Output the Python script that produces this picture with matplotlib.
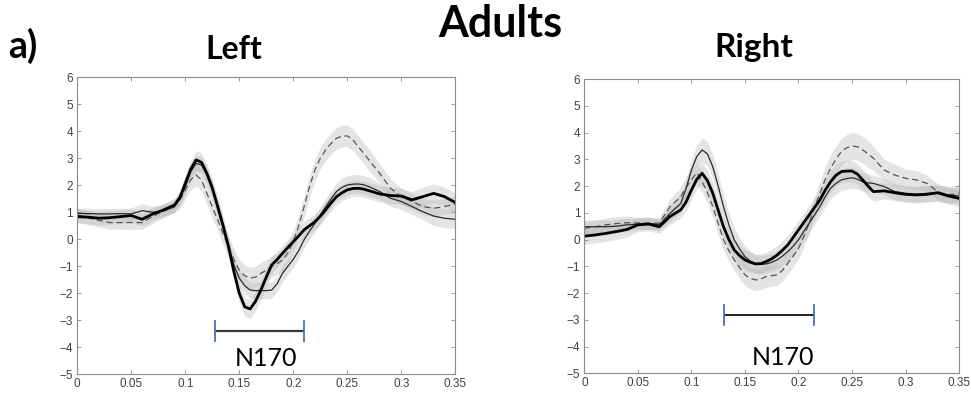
import numpy as np
import matplotlib
matplotlib.use("Agg")
import matplotlib.pyplot as plt

# Time axis (s): 10 ms steps outside the component window, 5 ms steps inside it
t = np.concatenate([np.arange(0, 0.09 + 1e-9, 0.01),
                    np.arange(0.095, 0.265 + 1e-9, 0.005),
                    np.arange(0.27, 0.35 + 1e-9, 0.01)])

# Left hemisphere: mean curves (uV)
left_thick = [0.84, 0.82, 0.78, 0.80, 0.84, 0.88, 0.74, 0.94, 1.09, 1.27,
              1.55, 2.07, 2.60, 2.94, 2.85, 2.44, 1.90, 1.21, 0.50, -0.27,
              -1.20, -2.00, -2.50, -2.58, -2.30, -1.88, -1.40, -0.95, -0.75, -0.52,
              -0.30, -0.09, 0.12, 0.35, 0.50, 0.65, 0.85, 1.09, 1.35, 1.58,
              1.72, 1.83, 1.88, 1.89, 1.86,
              1.80, 1.68, 1.62, 1.60, 1.46, 1.58, 1.70, 1.58, 1.36]
left_thin = [0.96, 0.95, 0.94, 0.94, 0.95, 0.94, 1.06, 1.00, 1.05, 1.20,
             1.50, 1.95, 2.50, 2.81, 2.75, 2.38, 1.85, 1.21, 0.50, -0.27,
             -0.95, -1.44, -1.72, -1.88, -1.90, -1.90, -1.90, -1.88, -1.65, -1.26,
             -1.00, -0.74, -0.42, -0.02, 0.30, 0.59, 0.90, 1.21, 1.50, 1.77,
             1.92, 2.01, 2.04, 2.05, 2.02,
             1.95, 1.77, 1.52, 1.40, 1.21, 1.02, 0.86, 0.78, 0.74]
left_dash = [0.90, 0.80, 0.70, 0.62, 0.62, 0.62, 0.62, 0.85, 1.05, 1.23,
             1.45, 1.83, 2.20, 2.38, 2.20, 1.70, 1.20, 0.72, 0.20, -0.27,
             -0.75, -1.14, -1.35, -1.44, -1.40, -1.26, -1.15, -1.01, -0.90, -0.77,
             -0.50, -0.09, 0.50, 1.21, 1.95, 2.57, 3.00, 3.31, 3.55, 3.74,
             3.82, 3.83, 3.70, 3.43, 3.20,
             2.94, 2.44, 1.89, 1.58, 1.40, 1.21, 1.15, 1.21, 1.31]
# half-widths of the shaded bands
left_thick_sd = [0.25, 0.25, 0.25, 0.25, 0.25, 0.25, 0.25, 0.25, 0.25, 0.25,
                 0.28, 0.30, 0.32, 0.35, 0.35, 0.35, 0.35, 0.35, 0.35, 0.35,
                 0.35, 0.35, 0.35, 0.35, 0.35, 0.35, 0.35, 0.32, 0.30, 0.30,
                 0.30, 0.30, 0.30, 0.30, 0.30, 0.30, 0.30, 0.30, 0.30, 0.30,
                 0.30, 0.30, 0.30, 0.30, 0.30,
                 0.30, 0.30, 0.30, 0.30, 0.30, 0.35, 0.35, 0.35, 0.35]
left_thin_sd = [0.20, 0.20, 0.20, 0.20, 0.20, 0.22, 0.25, 0.22, 0.20, 0.20,
                0.22, 0.25, 0.28, 0.30, 0.30, 0.30, 0.30, 0.30, 0.30, 0.30,
                0.30, 0.30, 0.30, 0.30, 0.30, 0.30, 0.30, 0.30, 0.30, 0.30,
                0.30, 0.30, 0.30, 0.30, 0.30, 0.30, 0.30, 0.30, 0.30, 0.32,
                0.35, 0.35, 0.35, 0.35, 0.35,
                0.35, 0.30, 0.30, 0.30, 0.30, 0.30, 0.35, 0.35, 0.35]
left_dash_sd = [0.25, 0.25, 0.25, 0.25, 0.25, 0.25, 0.25, 0.25, 0.25, 0.25,
                0.30, 0.35, 0.38, 0.40, 0.40, 0.40, 0.40, 0.40, 0.40, 0.40,
                0.40, 0.40, 0.40, 0.40, 0.40, 0.40, 0.40, 0.40, 0.40, 0.40,
                0.40, 0.40, 0.40, 0.40, 0.40, 0.40, 0.40, 0.40, 0.40, 0.40,
                0.40, 0.40, 0.40, 0.40, 0.40,
                0.40, 0.35, 0.35, 0.30, 0.30, 0.30, 0.30, 0.30, 0.30]

# Right hemisphere
right_thick = [0.13, 0.17, 0.23, 0.30, 0.38, 0.55, 0.58, 0.48, 0.86, 1.11,
               1.40, 1.85, 2.25, 2.48, 2.20, 1.73, 1.10, 0.48, 0.00, -0.39,
               -0.60, -0.76, -0.85, -0.91, -0.90, -0.82, -0.72, -0.58, -0.40, -0.20,
               0.08, 0.36, 0.64, 0.92, 1.20, 1.48, 1.85, 2.16, 2.40, 2.54,
               2.56, 2.56, 2.45, 2.23, 2.00,
               1.79, 1.82, 1.75, 1.69, 1.67, 1.69, 1.75, 1.63, 1.54]
right_thin = [0.48, 0.48, 0.48, 0.50, 0.55, 0.58, 0.61, 0.55, 0.98, 1.35,
              1.90, 2.60, 3.10, 3.35, 3.20, 2.72, 2.00, 1.23, 0.55, -0.01,
              -0.35, -0.64, -0.80, -0.91, -0.93, -0.91, -0.85, -0.76, -0.62, -0.45,
              -0.25, -0.01, 0.30, 0.61, 0.92, 1.23, 1.60, 1.92, 2.10, 2.23,
              2.28, 2.31, 2.26, 2.16, 2.12,
              2.10, 1.98, 1.79, 1.73, 1.69, 1.73, 1.73, 1.67, 1.63]
right_dash = [0.42, 0.48, 0.55, 0.60, 0.63, 0.62, 0.61, 0.61, 1.23, 1.60,
              1.95, 2.23, 2.50, 2.16, 1.75, 1.23, 0.60, -0.01, -0.42, -0.76,
              -1.05, -1.32, -1.45, -1.51, -1.47, -1.38, -1.35, -1.32, -1.15, -0.89,
              -0.62, -0.33, 0.12, 0.61, 1.20, 1.73, 2.25, 2.66, 3.00, 3.29,
              3.43, 3.50, 3.47, 3.35, 3.20,
              3.04, 2.60, 2.41, 2.29, 2.23, 2.10, 1.79, 1.67, 1.73]
right_thick_sd = [0.30, 0.30, 0.30, 0.30, 0.28, 0.25, 0.25, 0.25, 0.30, 0.30,
                  0.32, 0.35, 0.38, 0.40, 0.40, 0.40, 0.40, 0.40, 0.40, 0.40,
                  0.40, 0.40, 0.38, 0.35, 0.35, 0.35, 0.35, 0.35, 0.35, 0.35,
                  0.35, 0.35, 0.35, 0.35, 0.35, 0.35, 0.38, 0.40, 0.40, 0.40,
                  0.40, 0.40, 0.40, 0.40, 0.40,
                  0.35, 0.30, 0.30, 0.30, 0.30, 0.30, 0.30, 0.30, 0.30]
right_thin_sd = [0.25, 0.25, 0.25, 0.25, 0.25, 0.22, 0.22, 0.22, 0.30, 0.35,
                 0.38, 0.40, 0.42, 0.45, 0.45, 0.45, 0.45, 0.45, 0.45, 0.45,
                 0.42, 0.40, 0.38, 0.35, 0.35, 0.35, 0.35, 0.35, 0.35, 0.35,
                 0.35, 0.35, 0.35, 0.35, 0.35, 0.35, 0.38, 0.40, 0.40, 0.40,
                 0.40, 0.40, 0.38, 0.35, 0.35,
                 0.30, 0.30, 0.30, 0.30, 0.30, 0.30, 0.30, 0.30, 0.30]
right_dash_sd = [0.25, 0.25, 0.25, 0.25, 0.25, 0.22, 0.22, 0.22, 0.30, 0.35,
                 0.38, 0.40, 0.40, 0.40, 0.40, 0.40, 0.40, 0.40, 0.40, 0.40,
                 0.40, 0.40, 0.40, 0.40, 0.40, 0.40, 0.40, 0.40, 0.40, 0.40,
                 0.40, 0.40, 0.40, 0.40, 0.40, 0.45, 0.48, 0.50, 0.50, 0.50,
                 0.50, 0.50, 0.50, 0.50, 0.50,
                 0.45, 0.40, 0.40, 0.35, 0.35, 0.30, 0.30, 0.30, 0.30]

# N170 window markers: (start, end, level) and label position
left_n170 = (0.1276, 0.21, -3.39)
right_n170 = (0.1305, 0.2143, -2.82)
left_label = (0.1744, -4.43)
right_label = (0.1856, -4.41)

xticks = [0, 0.05, 0.1, 0.15, 0.2, 0.25, 0.3, 0.35]
xticklabels = ["0", "0.05", "0.1", "0.15", "0.2", "0.25", "0.3", "0.35"]
yticks = list(range(-5, 7))


def draw_panel(ax, thick, thin, dash, thick_sd, thin_sd, dash_sd, n170, label, bar_color, bar_lw):
    for m, s in ((dash, dash_sd), (thin, thin_sd), (thick, thick_sd)):
        m = np.array(m)
        s = np.array(s)
        ax.fill_between(t, m - s, m + s, color="#b4b4b4", alpha=0.35, linewidth=0)
    ax.plot(t, dash, color="#555555", lw=0.9, ls=(0, (5, 3)))
    ax.plot(t, thin, color="#2a2a2a", lw=0.9)
    ax.plot(t, thick, color="black", lw=2.0)

    x0, x1, y = n170
    ax.plot([x0, x1], [y, y], color=bar_color, lw=bar_lw, solid_capstyle="butt")
    for xc in (x0, x1):
        ax.plot([xc, xc], [y - 0.37, y + 0.37], color="#4472c4", lw=1.3)
    ax.text(label[0], label[1], "N170", ha="center", va="center",
            fontsize=18, family="Lato", color="black")

    ax.set_xlim(0, 0.35)
    ax.set_ylim(-5, 6)
    ax.set_xticks(xticks)
    ax.set_xticklabels(xticklabels)
    ax.set_yticks(yticks)
    ax.tick_params(direction="in", length=3, width=0.6, top=True, right=True,
                   colors="#8a8a8a", labelcolor="#404040", labelsize=8.5, pad=3)
    for lab in ax.get_xticklabels() + ax.get_yticklabels():
        lab.set_family("Liberation Sans")
    for sp in ax.spines.values():
        sp.set_color("#8a8a8a")
        sp.set_linewidth(0.8)


fig = plt.figure(figsize=(9.71, 3.98), dpi=100)
ax_l = fig.add_axes([0.0796, 0.0596, 0.3893, 0.7462])
ax_r = fig.add_axes([0.6018, 0.0620, 0.3859, 0.7394])

draw_panel(ax_l, left_thick, left_thin, left_dash,
           left_thick_sd, left_thin_sd, left_dash_sd,
           left_n170, left_label, "#3a3a3a", 1.6)
draw_panel(ax_r, right_thick, right_thin, right_dash,
           right_thick_sd, right_thin_sd, right_dash_sd,
           right_n170, right_label, "black", 1.2)

H = 398.0
fig.text(8 / 971, 1 - 58 / H, "a)", fontsize=27, weight="bold", family="Lato", va="baseline")
fig.text(233.5 / 971, 1 - 59 / H, "Left", fontsize=23, weight="bold", family="Lato",
         ha="center", va="baseline")
fig.text(500 / 971, 1 - 37 / H, "Adults", fontsize=31, weight="bold", family="Lato",
         ha="center", va="baseline")
fig.text(754 / 971, 1 - 57 / H, "Right", fontsize=24, weight="bold", family="Lato",
         ha="center", va="baseline")

fig.savefig("out.png", dpi=100)
